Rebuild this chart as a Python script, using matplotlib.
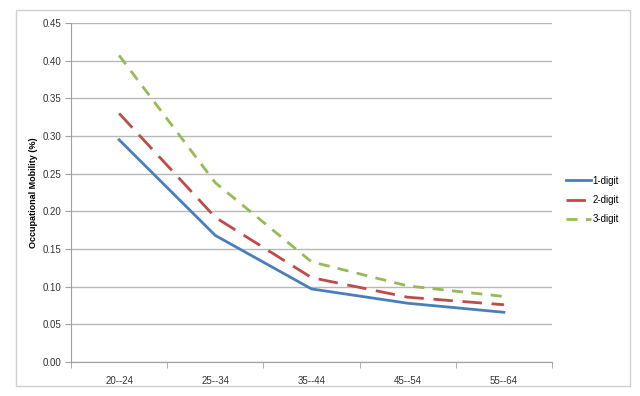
import matplotlib
matplotlib.use('Agg')
import matplotlib.pyplot as plt
from matplotlib.patches import Rectangle

categories = ['20--24', '25--34', '35--44', '45--54', '55--64']
one_digit = [0.295, 0.168, 0.097, 0.078, 0.066]
two_digit = [0.330, 0.192, 0.112, 0.086, 0.076]
three_digit = [0.407, 0.238, 0.133, 0.101, 0.087]
yticks = [0.00, 0.05, 0.10, 0.15, 0.20, 0.25, 0.30, 0.35, 0.40, 0.45]

plt.rcParams['font.family'] = ['Liberation Sans', 'DejaVu Sans']

fig = plt.figure(figsize=(6.4, 3.96), dpi=100)
ax = fig.add_axes([71 / 640, 34 / 396, 481 / 640, 339 / 396])

# outer chart frame
fig.patches.append(Rectangle((16 / 640, 10 / 396), 614 / 640, 376 / 396,
                             transform=fig.transFigure, fill=False,
                             edgecolor='#D0D0D0', linewidth=1))

x = range(len(categories))
ax.plot(x, one_digit, color='#4A7EBB', lw=2, label='1-digit')
ax.plot(x, two_digit, color='#BE4B48', lw=2, dashes=(7, 3.5), label='2-digit')
ax.plot(x, three_digit, color='#98B954', lw=2, dashes=(4, 3), label='3-digit')

ax.set_xlim(-0.5, len(categories) - 0.5)
ax.set_ylim(0, 0.45)
ax.set_yticks(yticks)
ax.set_yticklabels([f'{v:.2f}' for v in yticks], fontsize=7, color='#333333')
ax.set_xticks(list(x))
ax.set_xticklabels(categories, fontsize=7, color='#333333')
ax.tick_params(axis='x', length=0, pad=10)
ax.set_xticks([i - 0.5 for i in range(len(categories) + 1)], minor=True)
ax.tick_params(axis='x', which='minor', length=4, color='#A0A0A0', direction='out')
ax.tick_params(axis='y', length=4, color='#A0A0A0', direction='out', pad=3)

ax.grid(axis='y', color='#B8B8B8', lw=1)
ax.set_axisbelow(True)
for s in ['top', 'right']:
    ax.spines[s].set_visible(False)
for s in ['left', 'bottom']:
    ax.spines[s].set_color('#A0A0A0')

ax.set_ylabel('Occupational Mobility (%)', fontsize=6.5, fontweight='bold', labelpad=3)

ax.legend(loc='center left', bbox_to_anchor=(1.01, 0.478), frameon=False,
          fontsize=7, handlelength=2.6, handletextpad=0.15, labelspacing=0.95)

fig.savefig('out.png', dpi=100)
